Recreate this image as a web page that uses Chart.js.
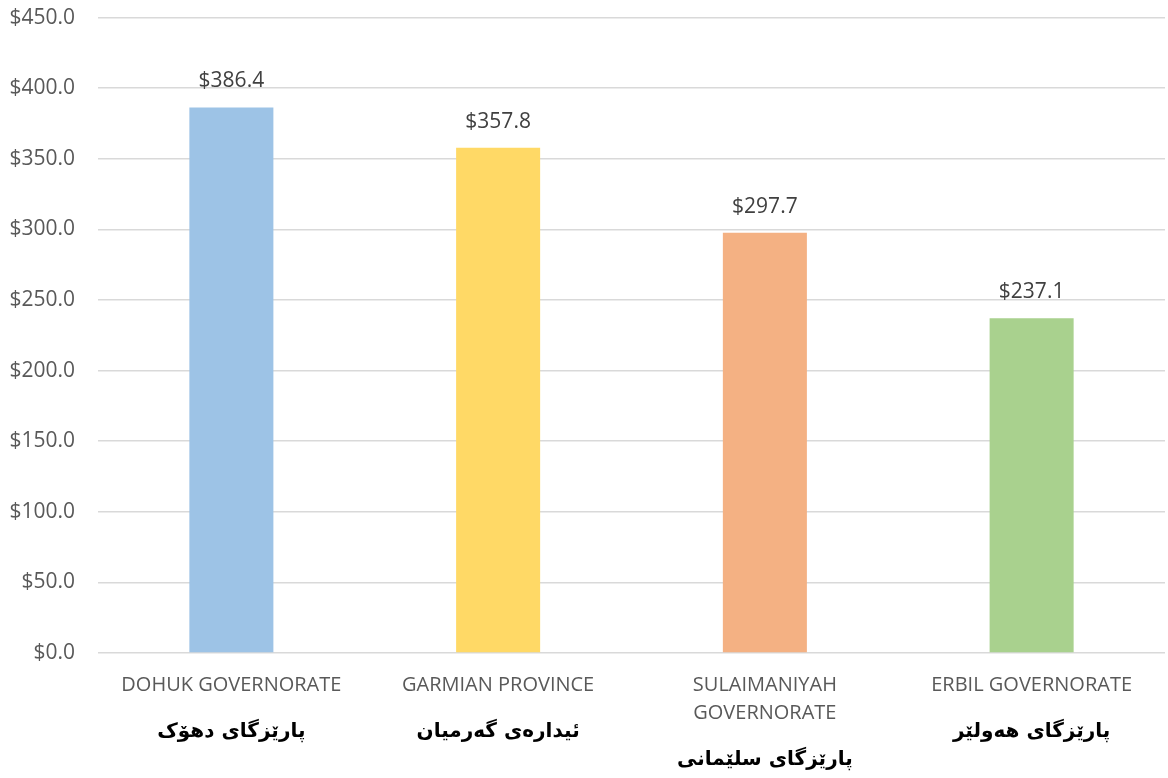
<!DOCTYPE html>
<html>
<head>
<meta charset="utf-8">
<script src="https://cdn.jsdelivr.net/npm/chart.js@4.4.1/dist/chart.umd.min.js"></script>
<style>
  html, body { margin: 0; padding: 0; background: #ffffff; }
  .chart-box { width: 1168px; height: 778px; position: relative; }
</style>
</head>
<body>
<div class="chart-box">
  <canvas id="barGovernorates"></canvas>
</div>

<script>
  const categories = [
    ['DOHUK GOVERNORATE'],
    ['GARMIAN PROVINCE'],
    ['SULAIMANIYAH', 'GOVERNORATE'],
    ['ERBIL GOVERNORATE']
  ];
  const kurdishNames = [
    'پارێزگای دهۆک',
    'ئیدارەی گەرمیان',
    'پارێزگای سلێمانی',
    'پارێزگای هەولێر'
  ];
  const values = [386.4, 357.8, 297.7, 237.1];
  const barColors = ['#9DC3E6', '#FFD966', '#F4B183', '#A9D18E'];

  // value labels above each bar
  const valueLabels = {
    id: 'valueLabels',
    afterDatasetsDraw(chart) {
      const ctx = chart.ctx;
      const meta = chart.getDatasetMeta(0);
      ctx.save();
      ctx.font = '21px "Open Sans"';
      ctx.fillStyle = '#404040';
      ctx.textAlign = 'center';
      ctx.textBaseline = 'middle';
      meta.data.forEach(function (bar, i) {
        ctx.fillText('$' + values[i].toFixed(1), bar.x, bar.y - 26);
      });
      ctx.restore();
    }
  };

  // kurdish names under the english tick labels
  const kurdishLabels = {
    id: 'kurdishLabels',
    afterDraw(chart) {
      const ctx = chart.ctx;
      const xScale = chart.scales.x;
      ctx.save();
      ctx.font = 'bold 20px "DejaVu Sans"';
      ctx.fillStyle = '#000000';
      ctx.textAlign = 'center';
      ctx.textBaseline = 'middle';
      ctx.direction = 'rtl';
      kurdishNames.forEach(function (name, i) {
        const x = xScale.getPixelForTick(i);
        const lines = categories[i].length;
        const y = xScale.top + 18 + 28 * lines + 33;
        ctx.fillText(name, x, y);
      });
      ctx.restore();
    }
  };

  new Chart(document.getElementById('barGovernorates'), {
    type: 'bar',
    data: {
      labels: categories,
      datasets: [{
        data: values,
        backgroundColor: barColors,
        barPercentage: 0.63,
        categoryPercentage: 0.5
      }]
    },
    options: {
      responsive: true,
      maintainAspectRatio: false,
      animation: false,
      layout: {
        padding: { top: 4, right: 3, left: 0, bottom: 47 }
      },
      plugins: {
        legend: { display: false },
        tooltip: { enabled: false }
      },
      scales: {
        x: {
          grid: {
            display: true,
            drawOnChartArea: false,
            tickLength: 14,
            tickColor: 'rgba(0,0,0,0)'
          },
          border: { display: false },
          ticks: {
            color: '#595959',
            font: { family: 'Open Sans', size: 20, lineHeight: 1.4 },
            padding: 4,
            maxRotation: 0,
            autoSkip: false
          }
        },
        y: {
          min: 0,
          max: 450,
          afterFit: function (scale) {
            scale.width = 98;
          },
          grid: {
            color: '#d9d9d9',
            lineWidth: 1.5,
            tickLength: 18,
            tickColor: 'rgba(0,0,0,0)'
          },
          border: { display: false },
          ticks: {
            stepSize: 50,
            color: '#595959',
            font: { family: 'Open Sans', size: 21 },
            padding: 5,
            callback: function (value) {
              return '$' + value.toFixed(1);
            }
          }
        }
      }
    },
    plugins: [valueLabels, kurdishLabels]
  });
</script>
</body>
</html>
